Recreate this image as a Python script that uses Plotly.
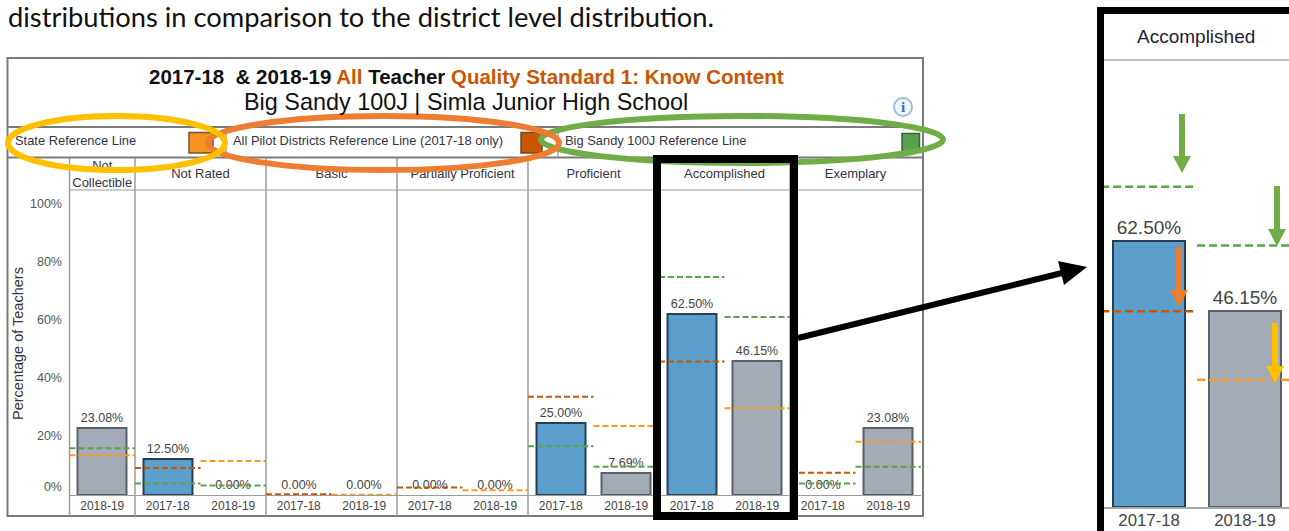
import plotly.graph_objects as go

# ---------- data ----------
years = ["2018-19", "2017-18", "2018-19", "2017-18", "2018-19", "2017-18", "2018-19",
         "2017-18", "2018-19", "2017-18", "2018-19", "2017-18", "2018-19"]
values = [23.08, 12.50, 0.00, 0.00, 0.00, 0.00, 0.00, 25.00, 7.69, 62.50, 46.15, 0.00, 23.08]
state_line = [13.7, None, 11.7, None, 0.1, None, 1.6, None, 23.8, None, 29.9, None, 18.4]
pilot_line = [None, 9.3, None, 0.3, None, 2.6, None, 33.9, None, 46.0, None, 7.7, None]
district_line = [16.1, 4.0, 3.3, None, None, None, None, 16.8, 9.7, 75.2, 61.4, 4.0, 9.7]
panels = ["Not<br>Collectible", "Not Rated", "Basic", "Partially Proficient",
          "Proficient", "Accomplished", "Exemplary"]
panel_slots = [1, 2, 2, 2, 2, 2, 2]
y_tick_positions = [2.4, 20, 40, 60, 80, 100]   # the 0% label sits a little above the baseline
y_tick_text = ["0%", "20%", "40%", "60%", "80%", "100%"]
legend_labels = ["State Reference Line", "All Pilot Districts Reference Line (2017-18 only)",
                 "Big Sandy 100J Reference Line"]

# ---------- style ----------
W, H = 1289, 531
BLUE, GRAY = "#5C9FCC", "#A2ABB6"
BLUE_EDGE, GRAY_EDGE = "#263F52", "#5B6068"
STATE, PILOT, DISTRICT = "#FB9A1E", "#C95600", "#5AA24C"
GRID, FRAME = "#9B9B9B", "#7A7A7A"
TXT = "#444444"
FONT = "Liberation Sans"

def X(p): return p / W
def Y(p): return 1 - p / H

X0, SLOT = 69.5, 65.5            # main chart: left edge and width of a slot (pixels)
BASE, PER = 495.0, 2.9           # main chart: baseline and pixels per percent

slots = list(range(len(values)))
centres = [s + 0.5 for s in slots]
colors = [BLUE if y == "2017-18" else GRAY for y in years]
edges = [BLUE_EDGE if y == "2017-18" else GRAY_EDGE for y in years]
edge_widths = [2 if v > 0 else 0 for v in values]
labels = [f"{v:.2f}%" for v in values]


def steps(vals, subset):
    xs, ys = [], []
    for s in subset:
        if vals[s] is not None:
            xs += [s, s + 1, None]
            ys += [vals[s], vals[s], None]
    return xs, ys


fig = go.Figure()

# ---------- bars and reference lines, main chart ----------
fig.add_bar(x=centres, y=values, width=0.75,
            marker=dict(color=colors, line=dict(color=edges, width=edge_widths)),
            text=labels, textposition="outside", cliponaxis=False, textangle=0,
            textfont=dict(family=FONT, size=12.5, color=TXT), xaxis="x", yaxis="y")
for vals, col in ((state_line, STATE), (pilot_line, PILOT), (district_line, DISTRICT)):
    xs, ys = steps(vals, slots)
    fig.add_scatter(x=xs, y=ys, mode="lines", line=dict(color=col, width=2, dash="6px,3px"),
                    cliponaxis=False, xaxis="x", yaxis="y")

# helper trace so that the tick-label axis is drawn
fig.add_scatter(x=[0], y=[0], mode="markers", marker=dict(opacity=0), xaxis="x", yaxis="y2")

# ---------- panel headers and legend labels (text traces on a full-canvas pixel axis) ----------
px = []
pos = 0
for n in panel_slots:
    px.append(X0 + SLOT * (pos + n / 2))
    pos += n
fig.add_scatter(x=px, y=[175] * len(panels), mode="text", text=panels, textposition="middle center",
                textfont=dict(family=FONT, size=13, color="#333344"), cliponaxis=False,
                xaxis="x3", yaxis="y4")
fig.add_scatter(x=[15, 233, 565], y=[142] * 3, mode="text", text=legend_labels, textposition="middle right",
                textfont=dict(family=FONT, size=12.9, color="#333344"), cliponaxis=False,
                xaxis="x3", yaxis="y4")

# ---------- inset ("Accomplished" enlarged) ----------
inset = [9, 10]
fig.add_bar(x=[centres[s] for s in inset], y=[values[s] for s in inset], width=0.75,
            marker=dict(color=[colors[s] for s in inset], line=dict(color=[edges[s] for s in inset], width=2)),
            text=[labels[s] for s in inset], textposition="outside", cliponaxis=False, textangle=0,
            textfont=dict(family=FONT, size=19, color=TXT), xaxis="x2", yaxis="y3")
for vals, col in ((state_line, STATE), (pilot_line, PILOT), (district_line, DISTRICT)):
    xs, ys = steps(vals, inset)
    fig.add_scatter(x=xs, y=ys, mode="lines", line=dict(color=col, width=2.5, dash="8px,4px"),
                    xaxis="x2", yaxis="y3")

# ---------- shapes ----------
shapes = []

def line(x0, y0, x1, y1, color=GRID, width=1, layer="below"):
    shapes.append(dict(type="line", xref="paper", yref="paper", x0=X(x0), y0=Y(y0), x1=X(x1), y1=Y(y1),
                       line=dict(color=color, width=width), layer=layer))

def rect(x0, y0, x1, y1, fill, lc=None, lw=0, layer="above"):
    shapes.append(dict(type="rect", xref="paper", yref="paper", x0=X(x0), y0=Y(y0), x1=X(x1), y1=Y(y1),
                       fillcolor=fill, line=dict(color=lc or fill, width=lw), layer=layer))

def ellipse(x0, y0, x1, y1, color):
    shapes.append(dict(type="circle", xref="paper", yref="paper", x0=X(x0), y0=Y(y0), x1=X(x1), y1=Y(y1),
                       line=dict(color=color, width=6), layer="above"))

def polygon(points, color):
    d = "M" + " L".join(f"{X(a):.5f},{Y(b):.5f}" for a, b in points) + " Z"
    shapes.append(dict(type="path", xref="paper", yref="paper", path=d, fillcolor=color,
                       line=dict(color=color, width=0), layer="above"))

def down_arrow(x, y0, y1, color):
    head = 17
    polygon([(x - 3, y0), (x + 3, y0), (x + 3, y1 - head), (x + 9, y1 - head), (x, y1),
             (x - 9, y1 - head), (x - 3, y1 - head)], color)

# outer frame and table rules
rect(7.5, 58, 923, 516, "rgba(0,0,0,0)", FRAME, 2, layer="below")
line(7.5, 127, 923, 127, FRAME, 2)
line(7.5, 157.5, 923, 157.5, FRAME, 2)
line(69.5, 190, 923, 190, GRID, 1)
line(69.5, 516, 923, 516, FRAME, 2)
line(226, 127, 226, 157, FRAME, 1)
line(558, 127, 558, 157, FRAME, 1)
pos = 0
line(69.5, 158, 69.5, 516, GRID, 1.5)
for n in panel_slots:
    pos += n
    if pos < len(values):
        line(X0 + SLOT * pos, 158, X0 + SLOT * pos, 516, GRID, 1.5)

# legend swatches
rect(189, 132.5, 213, 153, "#F7931E", "#6B5A3A", 1.5)
rect(521, 132.5, 542, 153, "#C95600", "#6B4A30", 1.5)
rect(902, 133.5, 919.5, 151.5, "#55A24A", "#3F5F3F", 1.5)

# info icon
shapes.append(dict(type="circle", xref="paper", yref="paper", x0=X(894), y0=Y(98), x1=X(912), y1=Y(116),
                   fillcolor="#F2F7FD", line=dict(color="#9CBDE3", width=2), layer="below"))

# annotation ellipses
ellipse(541, 116, 943, 163, "#70AD47")
ellipse(208, 116, 559, 170, "#ED7D31")
ellipse(8, 116, 225, 170, "#FFC000")

# black selection box and pointer
rect(657, 159, 794, 516, "rgba(0,0,0,0)", "#000000", 8)
line(798, 338, 1066, 272, "#000000", 6, layer="above")
polygon([(1087, 267), (1058, 261), (1064, 285)], "#000000")

# inset frame
line(1104, 60, 1289, 60, "#A8A8A8", 1.5)
rect(1097, 7, 1289, 14, "#000000")
rect(1097, 7, 1104, 531, "#000000")

# inset arrows
down_arrow(1182, 114, 173, "#70AD47")
down_arrow(1277, 186, 246, "#70AD47")
down_arrow(1179, 247, 307, "#ED7D31")
down_arrow(1275, 323, 383, "#FFC000")

# ---------- annotations ----------
def note(x, y, text, size, color="#000000", family=FONT, anchor="center", **kw):
    return dict(xref="paper", yref="paper", x=X(x), y=Y(y), text=text, showarrow=False,
                xanchor=anchor, yanchor="middle", font=dict(family=family, size=size, color=color), **kw)

title = ("<b>2017-18  &amp; 2018-19 <span style='color:#C95600'>All</span> Teacher "
         "<span style='color:#C95600'>Quality Standard 1: Know Content</span></b>")
annotations = [
    note(6, 16.7, "distributions in comparison to the district level distribution.", 27.3, "#111111",
         "Lato", "left"),
    note(466, 77, title, 20.5, "#111111"),
    note(466, 102, "Big Sandy 100J | Simla Junior High School", 23.4, "#111111"),
    note(903, 107, "<b>i</b>", 15, "#2F6FB5", "Liberation Serif"),
    note(18, 344, "Percentage of Teachers", 14.5, "#333344", textangle=-90),
    note(1196, 36, "Accomplished", 19, "#222233"),
]

# ---------- layout ----------
fig.update_layout(
    width=W, height=H, margin=dict(l=0, r=0, t=0, b=0, autoexpand=False), autosize=False,
    paper_bgcolor="#FFFFFF", plot_bgcolor="rgba(0,0,0,0)", showlegend=False,
    font=dict(family=FONT), bargap=0, shapes=shapes, annotations=annotations,
    xaxis=dict(domain=[X(X0), X(X0 + SLOT * 13)], range=[0, 13], tickvals=centres, ticktext=years,
               tickfont=dict(family=FONT, size=12, color=TXT), ticks="", ticklen=0,
               showgrid=False, zeroline=False, showline=True,
               linecolor=GRID, linewidth=1, anchor="y"),
    yaxis=dict(domain=[Y(BASE), Y(190)], range=[0, (BASE - 190) / PER], showticklabels=False,
               ticks="", showgrid=False, zeroline=False, showline=False, anchor="x"),
    yaxis2=dict(domain=[Y(BASE - 1.5), Y(BASE - 1.5 - 100 * PER)], range=[0, 100],
                tickvals=y_tick_positions, ticktext=y_tick_text,
                tickfont=dict(family=FONT, size=12.5, color="#555555"), ticks="outside", ticklen=4,
                tickcolor="rgba(0,0,0,0)", showgrid=False, zeroline=False, showline=False, anchor="x"),
    xaxis2=dict(domain=[X(1104), 1], range=[9.03, 10.958], tickvals=[9.5, 10.5],
                ticktext=[years[9], years[10]], tickfont=dict(family=FONT, size=16.8, color=TXT),
                ticks="", ticklen=0, ticklabelstandoff=-3, showgrid=False, zeroline=False,
                showline=True, linecolor="#A8A8A8", linewidth=1.5, anchor="y3"),
    yaxis3=dict(domain=[Y(507), Y(60)], range=[0, 105], showticklabels=False, ticks="", showgrid=False,
                zeroline=False, showline=False, anchor="x2"),
    xaxis3=dict(domain=[0, 1], range=[0, W], visible=False, anchor="y4"),
    yaxis4=dict(domain=[0, 1], range=[H, 0], visible=False, anchor="x3"),
)

fig.write_html("out.html", config={"displayModeBar": False},
               post_script="document.body.style.margin='0';document.body.style.overflow='hidden';")
